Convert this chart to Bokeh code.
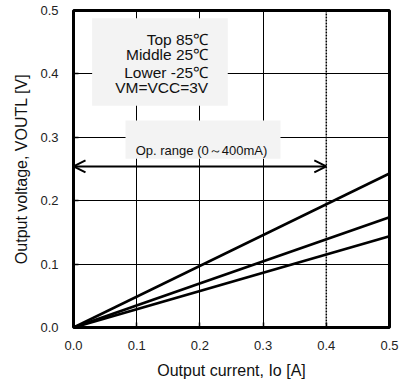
from bokeh.plotting import figure
from bokeh.models import (FixedTicker, BoxAnnotation, Label, Arrow, OpenHead, Span,
                          Range1d, PrintfTickFormatter)
from bokeh.embed import file_html
from bokeh.resources import INLINE

# ---- data ----
current_a = [0.0, 0.5]
vout_top_85c = [0.0, 0.243]
vout_middle_25c = [0.0, 0.174]
vout_lower_m25c = [0.0, 0.144]
x_ticks = [0.0, 0.1, 0.2, 0.3, 0.4, 0.5]
y_ticks = [0.0, 0.1, 0.2, 0.3, 0.4, 0.5]
op_range = [0.0, 0.4]
op_range_level = 0.254
legend_lines = ["Top 85℃", "Middle 25℃", "Lower -25℃", "VM=VCC=3V"]

FONT = "Liberation Sans"

p = figure(width=414, height=389, output_backend="svg", toolbar_location=None,
           x_range=Range1d(0, 0.5), y_range=Range1d(0, 0.5),
           min_border_left=73, min_border_right=25, min_border_top=10, min_border_bottom=62)
p.background_fill_color = "white"
p.border_fill_color = "white"
p.outline_line_color = "black"
p.outline_line_width = 3

for ax, ticks in ((p.xaxis[0], x_ticks), (p.yaxis[0], y_ticks)):
    ax.ticker = FixedTicker(ticks=ticks)
    ax.formatter = PrintfTickFormatter(format="%.1f")
    ax.axis_line_color = None
    ax.major_tick_in = 5
    ax.major_tick_out = 0
    ax.major_tick_line_width = 1.5
    ax.major_tick_line_color = "black"
    ax.minor_tick_line_color = None
    ax.major_label_text_font = FONT
    ax.major_label_text_font_size = "13px"
    ax.major_label_text_color = "#222222"
    ax.axis_label_text_font = FONT
    ax.axis_label_text_font_size = "16px"
    ax.axis_label_text_font_style = "normal"
    ax.axis_label_text_color = "#111111"

p.xaxis.axis_label = "Output current, Io [A]"
p.yaxis.axis_label = "Output voltage, VOUTL [V]"
p.xaxis.major_label_standoff = 13
p.xaxis.axis_label_standoff = 9
p.yaxis.major_label_standoff = 15
p.yaxis.axis_label_standoff = 7

p.xgrid.ticker = FixedTicker(ticks=[0.1, 0.2, 0.3])
p.ygrid.ticker = FixedTicker(ticks=[0.1, 0.2, 0.3, 0.4])
for g in (p.xgrid[0], p.ygrid[0]):
    g.grid_line_color = "black"
    g.grid_line_width = 1

# dotted limit line at 0.4 A
p.add_layout(Span(location=op_range[1], dimension="height", line_color="black",
                  line_width=1.5, line_dash="2 1"))

for ys in (vout_top_85c, vout_middle_25c, vout_lower_m25c):
    p.line(current_a, ys, line_color="black", line_width=2.7)

# condition box
p.add_layout(BoxAnnotation(left=0.0295, right=0.2441, bottom=0.3497, top=0.4879,
                           fill_color="#f3f3f3", fill_alpha=1.0, line_color=None))
for txt, yy in zip(legend_lines, [0.4543, 0.4301, 0.4027, 0.3781]):
    p.add_layout(Label(x=0.2131, y=yy, text=txt, text_align="right",
                       text_baseline="alphabetic", text_font=FONT,
                       text_font_size="15.5px", text_color="#111111"))

# operating range
p.add_layout(BoxAnnotation(left=0.0823, right=0.3275, bottom=0.266, top=0.3265,
                           fill_color="#f3f3f3", fill_alpha=1.0, line_color=None))
p.add_layout(Label(x=0.2025, y=0.279, text="Op. range (0～400mA)", text_align="center",
                   text_baseline="alphabetic", text_font=FONT,
                   text_font_size="13px", text_color="#111111"))
p.add_layout(Arrow(x_start=op_range[0], y_start=op_range_level,
                   x_end=op_range[1], y_end=op_range_level,
                   line_width=2, line_color="black",
                   start=OpenHead(size=12, line_width=2, line_color="black"),
                   end=OpenHead(size=12, line_width=2, line_color="black")))

html = file_html(p, INLINE)
html = html.replace("</head>", "<style>html,body{margin:0;padding:0;overflow:hidden}</style></head>", 1)
open("out.html", "w").write(html)
